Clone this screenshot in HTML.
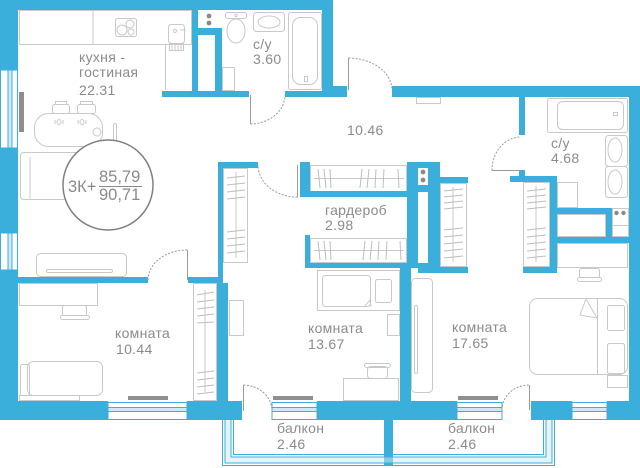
<!DOCTYPE html>
<html><head><meta charset="utf-8">
<style>
html,body{margin:0;padding:0;background:#fff;width:640px;height:468px;overflow:hidden}
svg{display:block}
text{font-family:"Liberation Sans","Noto Sans CJK SC",sans-serif;fill:#8b8b8b;font-size:14px;letter-spacing:0.3px}
</style></head>
<body>
<svg width="640" height="468" viewBox="0 0 640 468" xmlns="http://www.w3.org/2000/svg">
<rect x="0" y="0" width="640" height="468" fill="#fff"/>

<g fill="none" stroke="#c9c9c9" stroke-width="1">
  <rect x="19.5" y="10.5" width="172" height="34"/>
  <line x1="93" y1="10" x2="93" y2="45"/>
  <rect x="115.5" y="18.5" width="21" height="18" rx="2"/>
  <circle cx="122" cy="30" r="5"/><circle cx="130" cy="24" r="4"/><circle cx="131" cy="32" r="3"/>
  <line x1="165.5" y1="45" x2="165.5" y2="90"/>
  <rect x="168.5" y="24.5" width="16" height="19" rx="3"/>
  <circle cx="175" cy="31" r="1.5"/><line x1="180" y1="30" x2="186" y2="30"/>
  <rect x="169.5" y="43.5" width="14" height="7"/>
  <line x1="172" y1="44" x2="172" y2="50"/><line x1="175" y1="44" x2="175" y2="50"/><line x1="178" y1="44" x2="178" y2="50"/><line x1="181" y1="44" x2="181" y2="50"/>
  <rect x="34.5" y="113.5" width="68" height="33" rx="14"/>
  <rect x="52.5" y="104.5" width="17" height="9" rx="2"/><rect x="55.5" y="101.5" width="11" height="3"/>
  <rect x="77.5" y="104.5" width="18" height="9" rx="2"/><rect x="80.5" y="101.5" width="12" height="3"/>
  <ellipse cx="59" cy="122" rx="2" ry="2.5"/><line x1="55" y1="120" x2="55" y2="124"/><line x1="63" y1="120" x2="63" y2="124"/>
  <ellipse cx="82" cy="122" rx="2" ry="2.5"/><line x1="78" y1="120" x2="78" y2="124"/><line x1="86" y1="120" x2="86" y2="124"/>
  <circle cx="97" cy="132" r="4"/>
  <rect x="113.5" y="123.5" width="3" height="17" rx="1.5"/>
  <rect x="20.5" y="152.5" width="84" height="47" rx="3"/>
  <line x1="30" y1="157" x2="30" y2="199"/>
  <rect x="36.5" y="253.5" width="90" height="23" rx="4"/>
  <rect x="46.5" y="269.5" width="66" height="3" rx="1.5"/>
  <rect x="225.5" y="12.5" width="21" height="6" rx="2"/>
  <ellipse cx="236" cy="31" rx="9" ry="12"/>
  <circle cx="236" cy="15.5" r="1.2"/>
  <rect x="253.5" y="12.5" width="31" height="19" rx="3"/>
  <ellipse cx="269" cy="22" rx="11" ry="6"/>
  <rect x="288.5" y="12.5" width="33" height="77" rx="2"/>
  <rect x="292.5" y="17.5" width="25" height="67" rx="8"/>
  <rect x="304.5" y="76.5" width="3" height="5"/>
  <rect x="222.5" y="67.5" width="12" height="23"/>
  <rect x="19.5" y="283.5" width="78" height="22"/>
  <rect x="62.5" y="305.5" width="24" height="10" rx="2"/>
  <rect x="60.5" y="315.5" width="29" height="4" rx="2"/>
  <rect x="27.5" y="361.5" width="75" height="34" rx="6"/>
  <rect x="20.5" y="364.5" width="9" height="31" rx="2"/>
  <rect x="19.5" y="395.5" width="60" height="5"/>
  <rect x="193.5" y="283.5" width="23" height="117"/>
  <line x1="205" y1="290" x2="205" y2="392"/>
  <g stroke="#bdbdbd">
  <line x1="197" y1="295" x2="214" y2="292"/><line x1="197" y1="302" x2="214" y2="300"/><line x1="197" y1="309" x2="214" y2="307"/><line x1="197" y1="316" x2="214" y2="314"/><line x1="197" y1="323" x2="214" y2="322"/>
  <line x1="197" y1="373" x2="214" y2="371"/><line x1="197" y1="380" x2="214" y2="378"/><line x1="197" y1="387" x2="214" y2="385"/><line x1="197" y1="394" x2="214" y2="392"/>
  </g>
  <rect x="223.5" y="168.5" width="24" height="94"/>
  <line x1="236" y1="172" x2="236" y2="258"/>
  <g stroke="#bdbdbd">
  <line x1="227" y1="178" x2="245" y2="176"/><line x1="227" y1="185" x2="245" y2="183"/><line x1="227" y1="192" x2="245" y2="190"/><line x1="227" y1="199" x2="245" y2="197"/>
  <line x1="227" y1="232" x2="245" y2="230"/><line x1="227" y1="239" x2="245" y2="237"/><line x1="227" y1="246" x2="245" y2="244"/><line x1="227" y1="253" x2="245" y2="251"/>
  </g>
  <rect x="229.5" y="300.5" width="14" height="35"/>
  <rect x="317.5" y="270.5" width="82" height="40"/>
  <rect x="322.5" y="275.5" width="48" height="31" rx="3"/>
  <rect x="375.5" y="279.5" width="16" height="23" rx="2"/>
  <path d="M364 307 L370 300 L371 307"/>
  <rect x="387.5" y="314.5" width="12" height="21"/>
  <rect x="343.5" y="378.5" width="55" height="22"/>
  <rect x="367.5" y="366.5" width="20" height="12" rx="3"/>
  <rect x="364.5" y="363.5" width="26" height="4" rx="2"/>
  <rect x="310.5" y="165.5" width="96" height="26"/>
  <line x1="314" y1="178.5" x2="404" y2="178.5"/>
  <rect x="310.5" y="238.5" width="96" height="24"/>
  <line x1="314" y1="250.5" x2="404" y2="250.5"/>
  <g stroke="#bdbdbd">
  <line x1="318" y1="169" x2="320" y2="188"/><line x1="324" y1="169" x2="326" y2="188"/><line x1="330" y1="169" x2="331" y2="188"/>
  <line x1="362" y1="169" x2="360" y2="188"/><line x1="369" y1="169" x2="367" y2="188"/><line x1="376" y1="169" x2="375" y2="188"/><line x1="384" y1="169" x2="383" y2="188"/><line x1="398" y1="169" x2="399" y2="188"/>
  <line x1="318" y1="241" x2="320" y2="260"/><line x1="324" y1="241" x2="326" y2="260"/><line x1="330" y1="241" x2="331" y2="260"/>
  <line x1="365" y1="241" x2="363" y2="260"/><line x1="372" y1="241" x2="370" y2="260"/><line x1="379" y1="241" x2="378" y2="260"/><line x1="387" y1="241" x2="386" y2="260"/><line x1="400" y1="241" x2="401" y2="260"/>
  </g>
  <rect x="416.5" y="97.5" width="24" height="6"/>
  <rect x="440.5" y="183.5" width="26" height="83"/>
  <line x1="453" y1="187" x2="453" y2="262"/>
  <rect x="523.5" y="182.5" width="26" height="84"/>
  <line x1="536" y1="186" x2="536" y2="262"/>
  <g stroke="#bdbdbd">
  <line x1="444" y1="191" x2="463" y2="189"/><line x1="444" y1="197" x2="463" y2="195"/><line x1="444" y1="203" x2="463" y2="201"/><line x1="444" y1="209" x2="463" y2="207"/>
  <line x1="444" y1="230" x2="463" y2="228"/><line x1="444" y1="237" x2="463" y2="235"/><line x1="444" y1="244" x2="463" y2="242"/><line x1="444" y1="251" x2="463" y2="249"/><line x1="444" y1="258" x2="463" y2="256"/>
  <line x1="527" y1="191" x2="546" y2="189"/><line x1="527" y1="197" x2="546" y2="195"/><line x1="527" y1="203" x2="546" y2="201"/><line x1="527" y1="209" x2="546" y2="207"/>
  <line x1="527" y1="230" x2="546" y2="228"/><line x1="527" y1="237" x2="546" y2="235"/><line x1="527" y1="244" x2="546" y2="242"/><line x1="527" y1="251" x2="546" y2="249"/><line x1="527" y1="258" x2="546" y2="256"/>
  </g>
  <rect x="411.5" y="278.5" width="21" height="114" rx="4"/>
  <rect x="414.5" y="305.5" width="3" height="68" rx="1.5"/>
  <rect x="529.5" y="298.5" width="98" height="76" rx="8"/>
  <line x1="597.5" y1="298" x2="597.5" y2="375"/>
  <path d="M586 299 L597 318 L580 315 Z"/>
  <rect x="607.5" y="305.5" width="17" height="25" rx="2"/>
  <rect x="607.5" y="343.5" width="17" height="30" rx="2"/>
  <rect x="607.5" y="375.5" width="20" height="12"/>
  <rect x="557.5" y="243.5" width="70" height="24"/>
  <rect x="579.5" y="268.5" width="20" height="9" rx="2"/>
  <rect x="577.5" y="277.5" width="24" height="4" rx="2"/>
  <rect x="557.5" y="182.5" width="20" height="25"/>
  <rect x="557.5" y="214.5" width="48" height="22"/>
  <rect x="612.5" y="208.5" width="16" height="28"/>
  <line x1="612" y1="225.5" x2="628" y2="225.5"/>
  <rect x="547.5" y="98.5" width="80" height="34" rx="2"/>
  <rect x="557.5" y="101.5" width="66" height="28" rx="5"/>
  <rect x="613.5" y="112.5" width="4" height="3"/>
  <rect x="605.5" y="135.5" width="22" height="31" rx="3"/>
  <ellipse cx="615" cy="150" rx="7" ry="12"/>
  <rect x="605.5" y="166.5" width="22" height="31" rx="3"/>
  <ellipse cx="615" cy="182" rx="7" ry="12"/>
</g>

<g fill="#8e8e8e">
  <rect x="19" y="92" width="5" height="40"/>
  <rect x="128" y="396" width="40" height="4"/>
  <rect x="273" y="396" width="40" height="4"/>
  <rect x="458" y="396" width="40" height="4"/>
  <rect x="177" y="0" width="10" height="2"/>
</g>

<g fill="#3aafdb">
  <rect x="0" y="0" width="333" height="10"/>
  <rect x="0" y="0" width="18" height="70"/>
  <rect x="0" y="148" width="18" height="85"/>
  <rect x="0" y="270" width="18" height="150"/>
  <rect x="0" y="401" width="108" height="19"/>
  <rect x="187" y="401" width="55" height="19"/>
  <rect x="317" y="401" width="140" height="19"/>
  <rect x="531" y="401" width="41" height="19"/>
  <rect x="607" y="401" width="33" height="19"/>
  <rect x="629" y="86" width="11" height="334"/>
  <rect x="322" y="0" width="11" height="97"/>
  <rect x="322" y="86" width="25" height="11"/>
  <rect x="392" y="86" width="248" height="11"/>
  <rect x="285" y="91" width="50" height="6"/>
  <rect x="162" y="91" width="87" height="6"/>
  <rect x="192" y="10" width="6" height="87"/>
  <rect x="198" y="28" width="24" height="7"/>
  <rect x="215" y="28" width="7" height="69"/>
  <rect x="18" y="277" width="130" height="6"/>
  <rect x="188" y="277" width="35" height="6"/>
  <rect x="218" y="162" width="5" height="121"/>
  <rect x="217" y="283" width="11" height="118"/>
  <rect x="218" y="162" width="40" height="6"/>
  <rect x="300" y="162" width="10" height="35"/>
  <rect x="305" y="191" width="107" height="6"/>
  <rect x="305" y="235" width="5" height="33"/>
  <rect x="305" y="263" width="113" height="5"/>
  <rect x="407" y="162" width="33" height="6"/>
  <rect x="407" y="162" width="11" height="106"/>
  <rect x="428" y="162" width="12" height="111"/>
  <rect x="418" y="185" width="10" height="7"/>
  <rect x="418" y="263" width="10" height="10"/>
  <rect x="440" y="177" width="28" height="6"/>
  <rect x="440" y="267" width="28" height="6"/>
  <rect x="400" y="263" width="11" height="140"/>
  <rect x="523" y="267" width="34" height="6"/>
  <rect x="550" y="176" width="7" height="97"/>
  <rect x="510" y="176" width="47" height="6"/>
  <rect x="519" y="170" width="6" height="6"/>
  <rect x="519" y="97" width="6" height="38"/>
  <rect x="557" y="208" width="55" height="6"/>
  <rect x="606" y="208" width="6" height="35"/>
  <rect x="557" y="237" width="73" height="6"/>
  <rect x="384" y="420" width="9" height="46"/>
</g>

<g fill="#8a8a8a">
  <circle cx="209" cy="16" r="2.4"/><circle cx="209" cy="23" r="2.4"/>
  <circle cx="423" cy="172" r="2.4"/><circle cx="423" cy="180" r="2.4"/>
  <circle cx="616.5" cy="213" r="2.2"/><circle cx="623.5" cy="213" r="2.2"/>
</g>

<g stroke="#3aafdb" stroke-width="1">
  <rect x="0.5" y="70" width="17" height="78" fill="#fff"/>
  <rect x="8" y="70" width="4" height="78" fill="#cdeaf6"/>
  <rect x="0.5" y="233" width="17" height="37" fill="#fff"/>
  <rect x="8" y="233" width="4" height="37" fill="#cdeaf6"/>
  <rect x="108" y="402.5" width="79" height="17" fill="#fff"/>
  <rect x="108" y="407.5" width="79" height="4" fill="#cdeaf6"/>
  <rect x="272" y="402.5" width="45" height="17" fill="#fff"/>
  <rect x="272" y="407.5" width="45" height="4" fill="#cdeaf6"/>
  <rect x="457" y="402.5" width="45" height="17" fill="#fff"/>
  <rect x="457" y="407.5" width="45" height="4" fill="#cdeaf6"/>
  <rect x="572" y="402.5" width="35" height="17" fill="#fff"/>
  <rect x="572" y="407.5" width="35" height="4" fill="#cdeaf6"/>
  <path d="M222.5 420 V465.5 H554.5 V420" fill="none"/>
  <path d="M225 420 V463 H552 V420" fill="none"/>
  <path d="M231 420 V457 H546 V420" fill="none"/>
  <path d="M233.5 420 V454.5 H543.5 V420" fill="none"/>
</g>
<g fill="#cdeaf6" opacity="0.5">
  <rect x="225.5" y="420" width="5" height="37"/>
  <rect x="225.5" y="457.5" width="326" height="5"/>
  <rect x="546.5" y="420" width="5" height="37"/>
</g>

<g fill="none" stroke="#9a9a9a" stroke-width="1">
  <line x1="348.5" y1="90" x2="348.5" y2="58"/>
  <line x1="250.5" y1="95" x2="250.5" y2="124"/>
  <line x1="297.5" y1="165" x2="297.5" y2="197"/>
  <line x1="187.5" y1="280" x2="187.5" y2="250"/>
  <line x1="243.5" y1="411" x2="243.5" y2="385"/>
  <line x1="529.5" y1="410" x2="529.5" y2="385"/>
  <line x1="521" y1="170.5" x2="492" y2="170.5"/>
</g>
<g fill="none" stroke="#9a9a9a" stroke-width="1" stroke-dasharray="2 1.5">
  <path d="M348.5 58 A44 32 0 0 1 392 90"/>
  <path d="M250.5 124 A35 29 0 0 0 285 95"/>
  <path d="M297.5 197 A39 32 0 0 1 258 165"/>
  <path d="M148 280 A39 30 0 0 1 187.5 250"/>
  <path d="M243.5 385 A29 26 0 0 1 272 411"/>
  <path d="M502 410 A27 25 0 0 1 529.5 385"/>
  <path d="M492 170.5 A29 33 0 0 1 521 137"/>
</g>

<circle cx="108" cy="185" r="45" fill="#fff" stroke="#808080" stroke-width="1.5"/>
<text x="68" y="192" style="fill:#8a8a8a;font-size:16.5px;letter-spacing:0">3К+</text>
<text x="99" y="182" style="fill:#8a8a8a;font-size:16.5px;letter-spacing:0">85,79</text>
<text x="99" y="200" style="fill:#8a8a8a;font-size:16.5px;letter-spacing:0">90,71</text>
<line x1="99" y1="186.5" x2="142" y2="186.5" stroke="#8a8a8a" stroke-width="1"/>

<text x="79" y="62">кухня -</text>
<text x="79" y="77">гостиная</text>
<text x="79" y="95">22.31</text>
<text x="253" y="49">с/у</text>
<text x="253" y="64">3.60</text>
<text x="347" y="135">10.46</text>
<text x="551" y="148">с/у</text>
<text x="551" y="163">4.68</text>
<text x="325" y="215">гардероб</text>
<text x="325" y="230">2.98</text>
<text x="115" y="338">комната</text>
<text x="116" y="354">10.44</text>
<text x="308" y="333">комната</text>
<text x="308" y="349">13.67</text>
<text x="452" y="332">комната</text>
<text x="452" y="348">17.65</text>
<text x="277" y="433">балкон</text>
<text x="277" y="449">2.46</text>
<text x="448" y="433">балкон</text>
<text x="448" y="449">2.46</text>
</svg>
</body></html>
